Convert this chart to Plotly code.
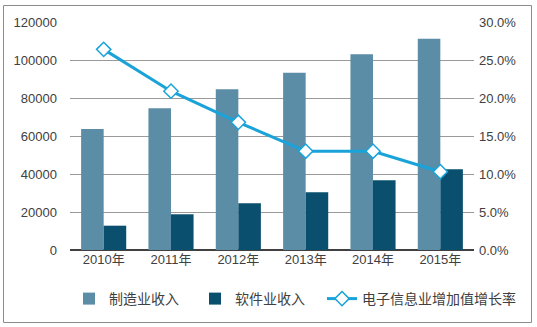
import plotly.graph_objects as go

years = ["2010年", "2011年", "2012年", "2013年", "2014年", "2015年"]
manufacturing = [63700, 74600, 84600, 93300, 103000, 111200]
software = [12800, 18800, 24600, 30400, 36700, 42500]
growth = [0.264, 0.209, 0.168, 0.130, 0.130, 0.103]

name_mfg = "制造业收入"
name_sw = "软件业收入"
name_growth = "电子信息业增加值增长率"

font_family = "Liberation Sans, Arial, Noto Sans CJK SC, sans-serif"

fig = go.Figure()
fig.add_trace(go.Bar(x=years, y=manufacturing, name=name_mfg, legend="legend",
                     marker=dict(color="#5B8DA6", line=dict(width=0))))
fig.add_trace(go.Bar(x=years, y=software, name=name_sw, legend="legend",
                     marker=dict(color="#0A4F6E", line=dict(width=0))))
fig.add_trace(go.Scatter(x=years, y=growth, name=name_growth, yaxis="y2",
                         legend="legend2", mode="lines+markers",
                         line=dict(color="#1AA3D9", width=3),
                         marker=dict(symbol="diamond", size=11, color="white",
                                     line=dict(color="#1AA3D9", width=1.5))))

W, H = 537, 327
L, R, T, B = 70, 474, 22, 250
pw, ph = R - L, B - T

def px(x):
    return (x - L) / pw

def py(y):
    return (B - y) / ph

legend_font = dict(size=14, color="#404040")

fig.update_layout(
    width=W, height=H,
    margin=dict(l=L, r=W - R, t=T, b=H - B),
    paper_bgcolor="white", plot_bgcolor="white",
    barmode="group", bargap=0.33, bargroupgap=0,
    font=dict(family=font_family, size=13, color="#404040"),
    showlegend=True,
    legend=dict(orientation="h", x=px(69), y=py(299), xanchor="left", yanchor="middle",
                font=legend_font, itemwidth=30,
                entrywidth=81, entrywidthmode="pixels",
                bgcolor="rgba(0,0,0,0)"),
    legend2=dict(orientation="h", x=px(322), y=py(299), xanchor="left", yanchor="middle",
                 font=legend_font, itemwidth=30, bgcolor="rgba(0,0,0,0)"),
    xaxis=dict(showgrid=False, showline=False, ticks="", tickfont=dict(size=13),
               zeroline=False),
    yaxis=dict(range=[0, 120000], dtick=20000, tickformat="d", showgrid=True,
               gridcolor="#9A9A9A", gridwidth=1, zeroline=True,
               zerolinecolor="#404040", zerolinewidth=1.5,
               ticks="", ticklabelstandoff=12, tickfont=dict(size=13)),
    yaxis2=dict(range=[0, 0.30], dtick=0.05, tickformat=".1%", overlaying="y",
                side="right", showgrid=False, zeroline=False, ticks="",
                ticklabelstandoff=4, tickfont=dict(size=13)),
    shapes=[dict(type="rect", xref="paper", yref="paper",
                 x0=px(3.5), x1=px(531.5), y0=py(322.5), y1=py(5.5),
                 line=dict(color="#8C8C8C", width=1), fillcolor="rgba(0,0,0,0)")],
)

fig.write_html("out.html")
